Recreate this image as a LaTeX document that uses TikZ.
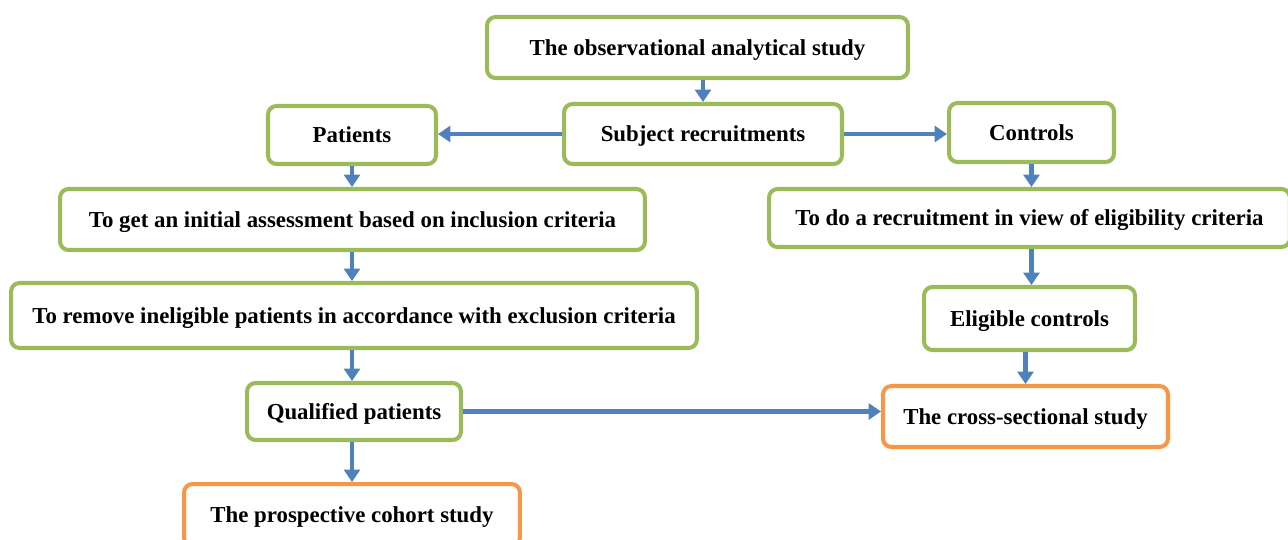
\documentclass[tikz,border=0pt]{standalone}
\usepackage{fontspec}
\setmainfont{Liberation Serif}
\usetikzlibrary{arrows.meta}

\definecolor{boxgreen}{HTML}{9BBB59}
\definecolor{boxorange}{HTML}{F79646}
\definecolor{arrowblue}{HTML}{4F81BD}

\begin{document}
\begin{tikzpicture}[x=0.02cm,y=-0.02cm,
	box/.style={draw=boxgreen, line width=2.3pt, rounded corners=0.17cm, fill=white,
		inner sep=0pt, align=center, text height=9pt, text depth=0pt,
		font=\fontsize{13}{15}\selectfont\bfseries},
	result/.style={box, draw=boxorange},
	link/.style={draw=arrowblue, line width=2.6pt, -{Triangle[length=7pt,width=9pt]}}]

	\clip (0,0) rectangle (1288,539);

	\node[box, minimum width=8.42cm, minimum height=1.22cm] (obs) at (697.5,47.5) {The observational analytical study};
	\node[box, minimum width=5.56cm, minimum height=1.2cm] (subj) at (703,134) {Subject recruitments};
	\node[box, minimum width=3.36cm, minimum height=1.16cm] (patients) at (352,135) {Patients};
	\node[box, minimum width=3.3cm, minimum height=1.18cm] (controls) at (1031.5,132.5) {Controls};
	\node[box, minimum width=11.7cm, minimum height=1.22cm] (initial) at (352.5,219.5) {To get an initial assessment based on inclusion criteria};
	\node[box, minimum width=10.42cm, minimum height=1.16cm] (recruit) at (1029.5,218) {To do a recruitment in view of eligibility criteria};
	\node[box, minimum width=13.72cm, minimum height=1.3cm] (remove) at (354,315.5) {To remove ineligible patients in accordance with exclusion criteria};
	\node[box, minimum width=4.22cm, minimum height=1.26cm] (eligible) at (1029.5,318.5) {Eligible controls};
	\node[box, minimum width=4.28cm, minimum height=1.14cm] (qualified) at (354,411.5) {Qualified patients};
	\node[result, minimum width=5.7cm, minimum height=1.22cm] (cross) at (1025.5,416.5) {The cross-sectional study};
	\node[result, minimum width=6.72cm, minimum height=1.24cm] (cohort) at (352,515) {The prospective cohort study};

	% patients side
	\draw[link] (obs.south -| subj.north) -- (subj.north);
	\draw[link] (subj.west) -- (subj.west -| patients.east);
	\draw[link] (patients.south) -- (initial.north -| patients.south);
	\draw[link] (patients.south |- initial.south) -- (patients.south |- remove.north);
	\draw[link] (patients.south |- remove.south) -- (patients.south |- qualified.north);
	\draw[link] (qualified.south -| patients.south) -- (patients.south |- cohort.north);
	\draw[link] (qualified.east) -- (qualified.east -| cross.west);

	% controls side
	\draw[link] (subj.east) -- (subj.east -| controls.west);
	\draw[link] (controls.south) -- (controls.south |- recruit.north);
	\draw[link] (controls.south |- recruit.south) -- (controls.south |- eligible.north);
	\draw[link] (eligible.south -| cross.north) -- (cross.north);

\end{tikzpicture}
\end{document}
